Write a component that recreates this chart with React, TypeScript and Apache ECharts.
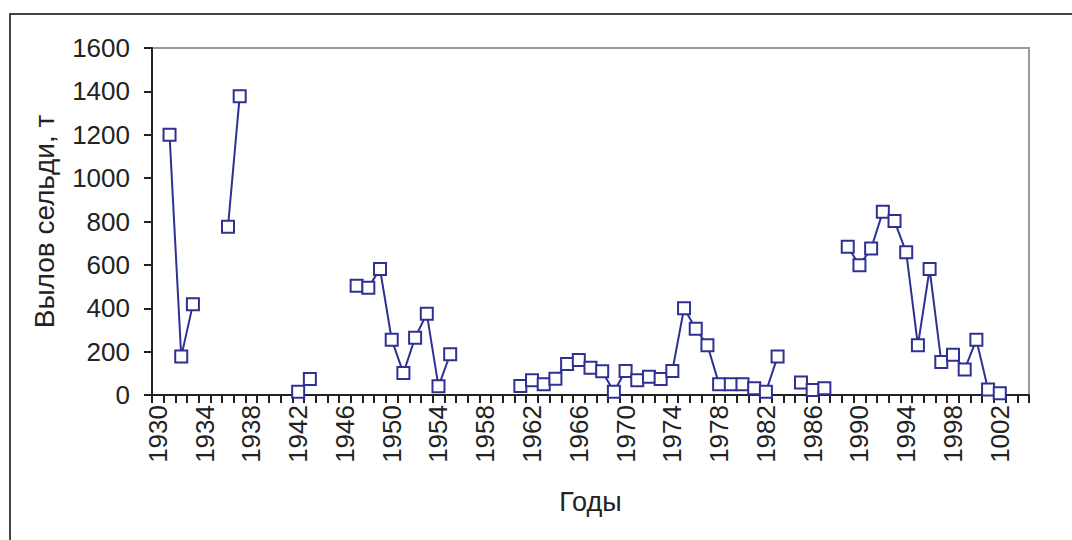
import React, { useEffect, useRef } from "react";
import * as echarts from "echarts";

const years: string[] = [
  "1930", "1931", "1932", "1933", "1934", "1935", "1936", "1937", "1938", "1939",
  "1940", "1941", "1942", "1943", "1944", "1945", "1946", "1947", "1948", "1949",
  "1950", "1951", "1952", "1953", "1954", "1955", "1956", "1957", "1958", "1959",
  "1960", "1961", "1962", "1963", "1964", "1965", "1966", "1967", "1968", "1969",
  "1970", "1971", "1972", "1973", "1974", "1975", "1976", "1977", "1978", "1979",
  "1980", "1981", "1982", "1983", "1984", "1985", "1986", "1987", "1988", "1989",
  "1990", "1991", "1992", "1993", "1994", "1995", "1996", "1997", "1998", "1999",
  "2000", "2001", "2002", "2003", "2004",
];

// Catch of herring, t (null = no data)
const catchValues: (number | null)[] = [
  null, 1200, 177, 418, null, null, 776, 1378, null, null,
  null, null, 15, 74, null, null, null, 504, 495, 581,
  255, 101, 264, 375, 40, 188, null, null, null, null,
  null, 41, 68, 49, 75, 143, 161, 126, 109, 15,
  111, 68, 84, 74, 111, 400, 306, 229, 49, 49,
  49, 31, 15, 177, null, 58, 23, 31, null, 684,
  598, 675, 845, 802, 658, 229, 581, 152, 186, 118,
  255, 25, 8, null, null,
];

// tick label as printed in the original (typo kept)
const tickLabelOverrides: Record<string, string> = { "2002": "1002" };

const yTicks = { min: 0, max: 1600, interval: 200 };

const FONT = 'Arial, "Liberation Sans", sans-serif';

export default function App() {
  const ref = useRef<HTMLDivElement>(null);
  useEffect(() => {
    if (!ref.current) return;
    const chart = echarts.init(ref.current, null, { renderer: "svg" });
    chart.setOption({
      animation: false,
      backgroundColor: "#ffffff",
      graphic: [
        {
          type: "rect",
          shape: { x: 10, y: 14, width: 1200, height: 700 },
          style: { fill: "none", stroke: "#444444", lineWidth: 2 },
          silent: true,
        },
      ],
      grid: {
        left: 152,
        top: 48,
        right: 43,
        bottom: 145,
        show: true,
        borderColor: "#9a9a9a",
        borderWidth: 2,
        backgroundColor: "transparent",
      },
      xAxis: {
        type: "category",
        data: years,
        boundaryGap: true,
        name: "Годы",
        nameLocation: "middle",
        nameGap: 93,
        nameTextStyle: { fontFamily: FONT, fontSize: 27, color: "#222" },
        axisLine: { lineStyle: { color: "#222", width: 2 } },
        axisTick: {
          show: true,
          interval: 0,
          alignWithLabel: false,
          length: 8,
          lineStyle: { color: "#222", width: 2 },
        },
        axisLabel: {
          interval: 3,
          rotate: 90,
          margin: 10,
          fontFamily: FONT,
          fontSize: 26,
          color: "#222",
          formatter: (v: string) => tickLabelOverrides[v] ?? v,
        },
        splitLine: { show: false },
      },
      yAxis: {
        type: "value",
        min: yTicks.min,
        max: yTicks.max,
        interval: yTicks.interval,
        name: "Вылов сельди, т",
        nameLocation: "middle",
        nameGap: 94,
        nameRotate: 90,
        nameTextStyle: { fontFamily: FONT, fontSize: 28, color: "#222" },
        axisLine: { show: true, lineStyle: { color: "#222", width: 2 } },
        axisTick: { show: true, length: 8, lineStyle: { color: "#222", width: 2 } },
        axisLabel: {
          margin: 22,
          fontFamily: FONT,
          fontSize: 26,
          color: "#222",
          formatter: (v: number) => String(v),
        },
        splitLine: { show: false },
      },
      series: [
        {
          type: "line",
          data: catchValues,
          connectNulls: false,
          symbol: "rect",
          symbolSize: 12,
          showAllSymbol: true,
          lineStyle: { color: "#2E3192", width: 2 },
          itemStyle: { color: "#ffffff", borderColor: "#2E3192", borderWidth: 2 },
        },
      ],
    });
    return () => chart.dispose();
  }, []);
  return (
    <div
      ref={ref}
      style={{ position: "fixed", left: 0, top: 0, width: 1072, height: 540 }}
    />
  );
}
